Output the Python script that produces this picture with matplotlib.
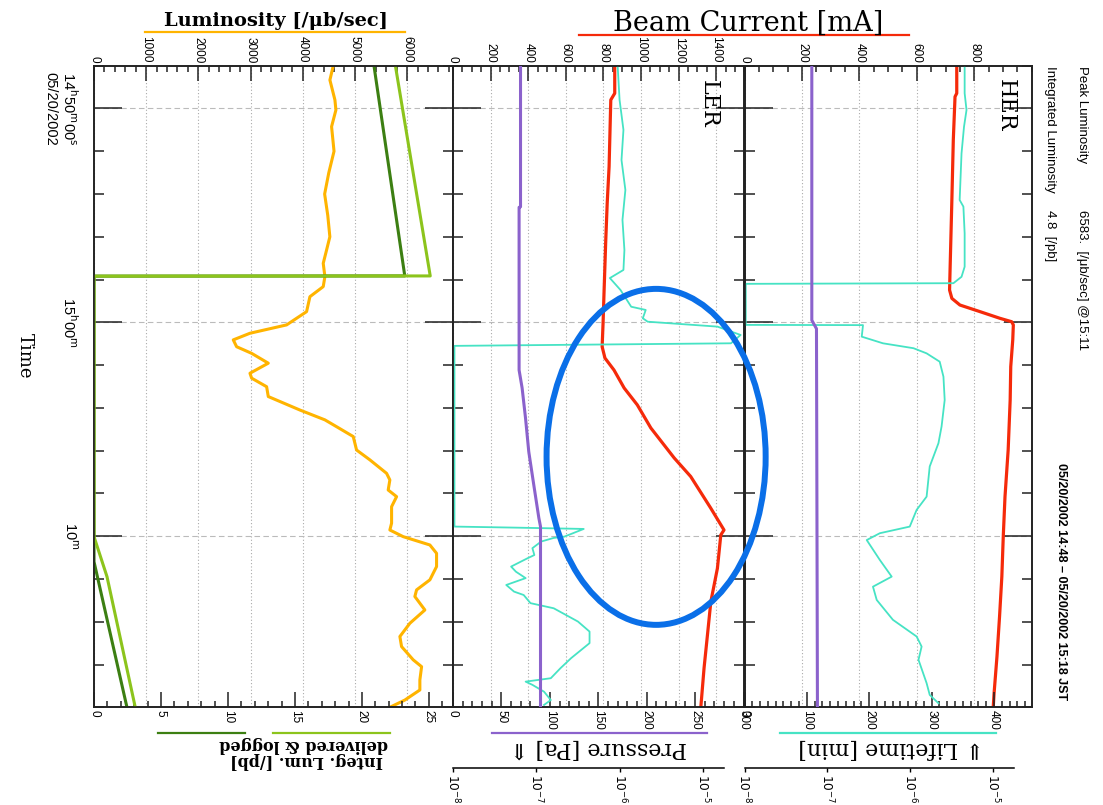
import matplotlib.pyplot as plt
from matplotlib.patches import Ellipse
from matplotlib.lines import Line2D
from matplotlib.ticker import MultipleLocator, FixedLocator, NullLocator

# time axis: minutes after 05/20/2002 14:48:00 JST
time_ticks = [2, 12, 22]
time_labels = ['14$^{\\mathrm{h}}$50$^{\\mathrm{m}}$00$^{\\mathrm{s}}$\n05/20/2002',
               '15$^{\\mathrm{h}}$00$^{\\mathrm{m}}$',
               '10$^{\\mathrm{m}}$']

# luminosity panel
lum_t = [0.00, 0.67, 1.60, 2.07, 2.85, 4.0, 5.0, 6.0, 7.0, 8.0, 8.62, 9.24, 9.86, 10.33,
         10.80, 11.50, 12.12, 12.51, 12.82, 13.14, 13.45, 13.91, 14.38, 14.61, 15.01, 15.47,
         16.10, 16.56, 16.88, 17.34, 17.97, 18.43, 19.06, 19.37, 19.84, 20.15, 20.62, 21.39,
         21.71, 22.02, 22.41, 22.80, 23.42, 24.04, 24.51, 24.82, 25.45, 26.07, 26.69, 27.16,
         27.78, 28.10, 28.72, 29.19, 29.66, 30.00]
lum_v = [4585, 4521, 4617, 4636, 4553, 4600, 4500, 4420, 4480, 4520, 4457, 4393, 4425, 4393,
         4138, 4074, 3691, 2989, 2669, 2733, 3021, 3340, 2989, 3021, 3308, 3340,
         3946, 4425, 4649, 4968, 5032, 5287, 5607, 5670, 5638, 5799, 5703, 5703,
         5670, 5925, 6437, 6565, 6565, 6437, 6182, 6149, 6341, 6054, 5862, 5894,
         6117, 6278, 6245, 6245, 5958, 5670]
integ_del_t = [0.0, 9.83, 9.84, 22.02, 23.89, 30.0]
integ_del_v = [22.5, 25.1, 0.0, 0.0, 0.97, 3.08]
integ_log_t = [0.0, 9.83, 9.84, 23.19, 30.0]
integ_log_v = [20.9, 23.2, 0.0, 0.0, 2.46]

# LER
ler_i_t = [0.00, 1.29, 1.60, 4.72, 6.42, 8.23, 10.63, 12.03, 13.14, 13.67, 14.23, 15.07,
           15.86, 16.94, 18.34, 19.21, 20.68, 21.71, 21.94, 23.50, 25.06, 26.62, 28.16, 29.97]
ler_i_v = [860, 860, 839, 830, 820, 812, 803, 798, 793, 808, 856, 910,
           980, 1052, 1176, 1264, 1370, 1441, 1424, 1406, 1371, 1353, 1335, 1318]
ler_tau_t = [0.00, 1.60, 3.00, 4.41, 5.81, 7.21, 8.62, 9.55, 9.93, 10.49, 11.27, 11.42,
             11.81, 11.97, 12.20, 12.59, 12.98, 13.10, 21.55, 21.60, 21.66, 22.02, 22.08,
             22.25, 22.56, 22.88, 23.03, 23.42, 23.66, 23.96, 24.28, 24.59, 24.75, 25.13,
             25.37, 25.99, 26.46, 27.00, 27.70, 28.17, 28.64, 28.80, 28.95, 29.27, 29.66, 29.89]
ler_tau_v = [170, 172, 176, 174, 178, 175, 177, 176, 162, 173, 184, 199,
             196, 201, 273, 297, 287, 1.5, 1.5, 66, 135, 115, 104,
             91, 82, 84, 77, 60, 65, 75, 55, 63, 73, 80,
             104, 129, 141, 141, 122, 111, 101, 75, 82, 94, 101, 94]
ler_p_t = [0.0, 6.60, 6.62, 14.23, 15.07, 16.47, 18.05, 19.60, 21.15, 21.55, 30.0]
ler_p_v = [6.45e-8, 6.45e-8, 6.2e-8, 6.2e-8, 6.74e-8, 7.4e-8, 8.1e-8, 9.3e-8, 1.07e-7,
           1.12e-7, 1.12e-7]

# HER
her_i_t = [0.00, 1.29, 1.45, 3.47, 6.28, 9.40, 10.49, 10.88, 11.19, 11.50, 11.81, 11.97,
           12.12, 12.82, 14.07, 15.63, 17.97, 20.15, 21.99, 23.89, 25.76, 27.63, 29.34, 30.00]
her_i_v = [739, 739, 733, 727, 722, 716, 714, 722, 750, 820, 889, 930,
           936, 934, 927, 925, 918, 907, 901, 896, 888, 879, 869, 866]
her_tau_t = [0.00, 1.29, 2.07, 2.85, 4.10, 6.28, 6.59, 7.84, 9.40, 9.87, 10.17, 10.20,
             12.12, 12.13, 12.67, 12.98, 13.21, 13.45, 13.84, 14.54, 15.63, 16.87, 17.65,
             18.74, 20.15, 20.77, 21.55, 21.86, 22.18, 23.11, 23.89, 24.36, 24.98, 25.91,
             26.69, 27.16, 27.78, 28.87, 29.42, 29.81]
her_tau_v = [353, 353, 356, 352, 348, 345, 351, 353, 353, 348, 335, 2,
             2, 190, 188, 222, 271, 292, 313, 319, 321, 316, 311,
             297, 292, 276, 265, 217, 196, 217, 236, 206, 212, 238,
             276, 284, 279, 292, 297, 311]
her_p_t = [0.0, 11.9, 12.3, 30.0]
her_p_v = [6.5e-8, 6.5e-8, 7.4e-8, 7.6e-8]

ORANGE = '#ffb400'
DKGREEN = '#3c7f12'
LTGREEN = '#8cc41c'
RED = '#f52a0a'
CYAN = '#46e3c4'
PURPLE = '#8b62cc'
BLUE = '#0a6fe8'
INK = '#222222'
NARROW = ['Liberation Sans', 'DejaVu Sans']
SERIF = ['DejaVu Serif', 'DejaVu Sans']

W, H = 1103, 805
TOP, BOT = 65.7, 707.3

fig = plt.figure(figsize=(W / 100, H / 100), dpi=100)


def fx(x):
    return x / W


def fy(y):
    return 1 - y / H


def make_panel(x0, x1, top_max, bot_max, p_max=None):
    ax = fig.add_axes([fx(x0), fy(BOT), (x1 - x0) / W, (BOT - TOP) / H])
    ax_b = ax.twiny()
    ax_p = ax.twiny() if p_max else None
    ax.xaxis.tick_top()
    ax_b.xaxis.tick_bottom()
    ax.set_xlim(0, top_max)
    ax_b.set_xlim(0, bot_max)
    ax.set_ylim(30, 0)
    ax.yaxis.set_major_locator(FixedLocator(time_ticks))
    ax.yaxis.set_minor_locator(MultipleLocator(2))
    ax.tick_params(axis='y', which='both', direction='in', left=True, right=True,
                   labelleft=False, color=INK, width=1.1)
    ax.tick_params(axis='y', which='major', length=20)
    ax.tick_params(axis='y', which='minor', length=7.5)
    for a, top in ((ax, True), (ax_b, False)):
        a.tick_params(axis='x', which='both', direction='in', top=top, bottom=not top,
                      labeltop=top, labelbottom=not top, labelrotation=-90, labelsize=8.5,
                      pad=2, color=INK, width=1.1, labelfontfamily=NARROW)
        a.tick_params(axis='x', which='major', length=11)
        a.tick_params(axis='x', which='minor', length=4)
        for s in a.spines.values():
            s.set_linewidth(1.2)
            s.set_color(INK)
    ax.grid(axis='x', which='major', ls=(0, (1, 2)), color='#aaaaaa', lw=0.8)
    ax.grid(axis='y', which='major', ls=(0, (5, 3)), color='#bbbbbb', lw=0.8)
    if ax_p is not None:
        ax_p.set_xscale('log')
        ax_p.set_xlim(1e-8, p_max)
        ax_p.xaxis.set_visible(False)
        for s in ax_p.spines.values():
            s.set_visible(False)
    return ax, ax_b, ax_p


def pressure_scale(x0, px_per_dec):
    x1 = x0 + 3.25 * px_per_dec
    sa = fig.add_axes([fx(x0), fy(767.7), (x1 - x0) / W, 0.0001])
    sa.set_xscale('log')
    sa.set_xlim(1e-8, 10 ** -4.75)
    sa.set_xticks([1e-8, 1e-7, 1e-6, 1e-5],
                  labels=['$10^{-8}$', '$10^{-7}$', '$10^{-6}$', '$10^{-5}$'])
    sa.xaxis.set_minor_locator(NullLocator())
    sa.yaxis.set_visible(False)
    sa.patch.set_visible(False)
    for k in ('top', 'left', 'right'):
        sa.spines[k].set_visible(False)
    sa.spines['bottom'].set_linewidth(1.1)
    sa.tick_params(axis='x', direction='out', length=3, width=1, labelrotation=-90,
                   labelsize=8.8, pad=1.5)


# luminosity panel
ax_l, ax_lb, _ = make_panel(94, 453, 6880, 26.8)
ax_l.xaxis.set_major_locator(MultipleLocator(1000))
ax_l.xaxis.set_minor_locator(MultipleLocator(200))
ax_lb.xaxis.set_major_locator(MultipleLocator(5))
ax_lb.xaxis.set_minor_locator(MultipleLocator(1))
ax_l.plot(lum_v, lum_t, color=ORANGE, lw=2.2)
ax_lb.plot(integ_log_v, integ_log_t, color=DKGREEN, lw=2.2)
ax_lb.plot(integ_del_v, integ_del_t, color=LTGREEN, lw=2.2)
ax_l.yaxis.set_major_formatter(plt.FixedFormatter(time_labels))
ax_l.tick_params(axis='y', which='major', labelleft=True, labelrotation=-90, pad=11,
                 labelsize=10.5, labelfontfamily=NARROW)
plt.setp(ax_l.get_yticklabels(), va='center', ha='right', multialignment='center')

# LER panel
ax_m, ax_mb, ax_mp = make_panel(453, 744.5, 1550, 301, 10 ** -4.505)
ax_m.xaxis.set_major_locator(FixedLocator(range(0, 1401, 200)))
ax_m.xaxis.set_minor_locator(MultipleLocator(50))
ax_mb.xaxis.set_major_locator(MultipleLocator(50))
ax_mb.xaxis.set_minor_locator(MultipleLocator(10))
ax_m.plot(ler_i_v, ler_i_t, color=RED, lw=2.3)
ax_mb.plot(ler_tau_v, ler_tau_t, color=CYAN, lw=1.3)
ax_mp.plot(ler_p_v, ler_p_t, color=PURPLE, lw=2.2)

# HER panel
ax_h, ax_hb, ax_hp = make_panel(744.5, 1032, 1001, 461, 10 ** -4.528)
ax_h.xaxis.set_major_locator(FixedLocator(range(0, 801, 200)))
ax_h.xaxis.set_minor_locator(MultipleLocator(50))
ax_hb.xaxis.set_major_locator(MultipleLocator(100))
ax_hb.xaxis.set_minor_locator(MultipleLocator(12.5))
ax_h.plot(her_i_v, her_i_t, color=RED, lw=2.3)
ax_hb.plot(her_tau_v, her_tau_t, color=CYAN, lw=1.3)
ax_hp.plot(her_p_v, her_p_t, color=PURPLE, lw=2.2)

pressure_scale(453, 83.4)
pressure_scale(744.5, 82.8)

# axis titles and underlines
fig.text(fx(276), fy(21), 'Luminosity [/\u03bcb/sec]', ha='center', va='center',
         fontsize=14, fontweight='bold', family=SERIF)
fig.add_artist(Line2D([fx(145), fx(405)], [fy(31.7), fy(31.7)], color=ORANGE, lw=1.6))
fig.text(fx(748), fy(23), 'Beam Current [mA]', ha='center', va='center',
         fontsize=19.5, family=SERIF)
fig.add_artist(Line2D([fx(579), fx(909)], [fy(35), fy(35)], color=RED, lw=1.6))

fig.text(fx(598), fy(748), 'Pressure [Pa] \u21d1', ha='center', va='center',
         rotation=180, fontsize=16, family=SERIF)
fig.add_artist(Line2D([fx(492), fx(707)], [fy(733.3), fy(733.3)], color=PURPLE, lw=1.6))
fig.text(fx(891), fy(748), '\u21d3 Lifetime [min]', ha='center', va='center',
         rotation=180, fontsize=16, family=SERIF)
fig.add_artist(Line2D([fx(780), fx(996)], [fy(733.3), fy(733.3)], color=CYAN, lw=1.6))

fig.text(fx(388), fy(744), 'delivered & logged', ha='right', va='center',
         rotation=180, fontsize=11.5, fontweight='bold', family=SERIF)
fig.text(fx(383), fy(760), 'Integ. Lum. [/pb]', ha='right', va='center',
         rotation=180, fontsize=11.5, fontweight='bold', family=SERIF)
fig.add_artist(Line2D([fx(158), fx(245)], [fy(733.3), fy(733.3)], color=DKGREEN, lw=1.6))
fig.add_artist(Line2D([fx(273), fx(390)], [fy(733.3), fy(733.3)], color=LTGREEN, lw=1.6))

fig.text(fx(709), fy(104), 'LER', ha='center', va='center', rotation=-90,
         fontsize=16, family=SERIF)
fig.text(fx(1006), fy(105), 'HER', ha='center', va='center', rotation=-90,
         fontsize=16, family=SERIF)
fig.text(fx(25), fy(356), 'Time', ha='center', va='center', rotation=-90,
         fontsize=13, family=SERIF)

fig.text(fx(1082), fy(65.7), 'Peak Luminosity', ha='center', va='top', rotation=-90,
         fontsize=9.5, family=NARROW)
fig.text(fx(1082), fy(210), '6583.  [/\u03bcb/sec] @15:11', ha='center', va='top',
         rotation=-90, fontsize=9.5, family=NARROW)
fig.text(fx(1050), fy(65.7), 'Integrated Luminosity', ha='center', va='top',
         rotation=-90, fontsize=9.5, family=NARROW)
fig.text(fx(1050), fy(210), '4.8  [/pb]', ha='center', va='top', rotation=-90,
         fontsize=9.5, family=NARROW)
fig.text(fx(1061), fy(463), '05/20/2002 14:48 \u2013 05/20/2002 15:18 JST', ha='center',
         va='top', rotation=-90, fontsize=9, fontweight='bold', family=NARROW)

# hand-drawn highlight around the LER injection
fig.add_artist(Ellipse((1080, 18.29), 1165, 15.71, fill=False, edgecolor=BLUE, lw=4.3,
                       transform=ax_m.transData))

fig.savefig('out.png', dpi=100, facecolor='white')
